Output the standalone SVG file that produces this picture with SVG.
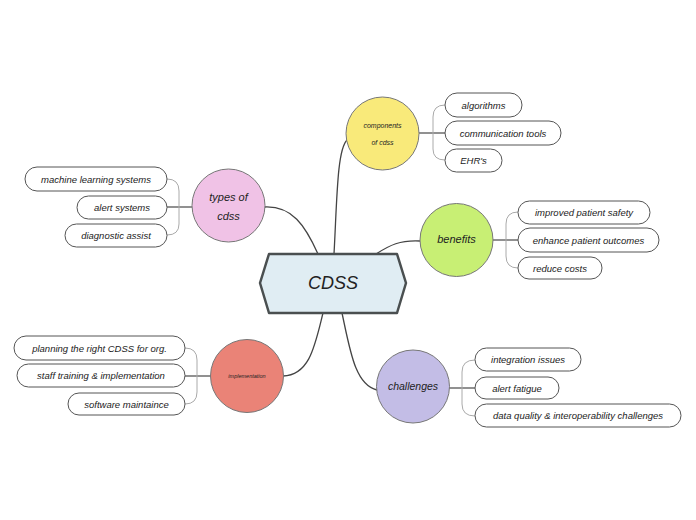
<svg xmlns="http://www.w3.org/2000/svg" width="696" height="520" viewBox="0 0 696 520">
<style>
text{font-family:"Liberation Sans",Arial,sans-serif;font-style:italic;fill:#222;text-anchor:middle;dominant-baseline:central}
.leaf rect{fill:#fff;stroke:#555;stroke-width:1}
.leaf text{font-size:9.5px}
.topic circle{stroke:#777;stroke-width:1}
.main{fill:none;stroke:#444;stroke-width:1.3}
.br{fill:none;stroke:#aaa;stroke-width:1}
.stem{fill:none;stroke:#555;stroke-width:1.3}
</style>
<rect width="696" height="520" fill="#fff"/>
<g id="connectors">
<path class="main" d="M334,254 C337,200 337,150 347,140"/>
<path class="main" d="M318,254 C305,225 292,206 265,207"/>
<path class="main" d="M376,254 C390,245 400,240 420,241"/>
<path class="main" d="M323,313 C315,345 310,375 283,376"/>
<path class="main" d="M342,313 C350,350 355,385 377,390"/>
<path class="stem" d="M419,133 L445,133"/>
<path class="br" d="M445,105 Q433,105 433,117 L433,149 Q433,160 445,160"/>
<path class="stem" d="M192,207 L167,207"/>
<path class="br" d="M167,179 Q179,179 179,191 L179,224 Q179,235 167,235"/>
<path class="stem" d="M493,240 L518,240"/>
<path class="br" d="M518,212 Q506,212 506,224 L506,256 Q506,268 518,268"/>
<path class="stem" d="M211,376 L185,376"/>
<path class="br" d="M185,348 Q197,348 197,360 L197,392 Q197,404 185,404"/>
<path class="stem" d="M449,388 L475,388"/>
<path class="br" d="M475,360 Q462,360 462,372 L462,404 Q462,416 475,416"/>
</g>
<g id="cdss">
<polygon points="269,254 397,254 406,283 397,313 269,313 260,283" fill="#e0edf3" stroke="#4a4f50" stroke-width="2.5" stroke-linejoin="round"/>
<text x="333" y="283" style="font-size:18px">CDSS</text>
</g>
<g id="components" class="topic">
<circle cx="382.5" cy="133.5" r="36.5" fill="#f9ea7a"/>
<text x="382.5" y="125" style="font-size:7px">components</text>
<text x="382.5" y="142" style="font-size:7px">of cdss</text>
</g>
<g id="types" class="topic">
<circle cx="228.5" cy="205.5" r="36.5" fill="#f0c2e6"/>
<text x="228.5" y="197" style="font-size:11px">types of</text>
<text x="228.5" y="216" style="font-size:11px">cdss</text>
</g>
<g id="benefits" class="topic">
<circle cx="456.5" cy="240" r="36.5" fill="#c8ef74"/>
<text x="456.5" y="239" style="font-size:11px">benefits</text>
</g>
<g id="implementation" class="topic">
<circle cx="247" cy="376" r="36.5" fill="#ea8377"/>
<text x="247" y="376" style="font-size:5.5px">implementation</text>
</g>
<g id="challenges" class="topic">
<circle cx="413" cy="386.5" r="36.5" fill="#c3bde6"/>
<text x="413" y="386" style="font-size:10.5px">challenges</text>
</g>
<g id="leaf-algorithms" class="leaf"><rect x="445" y="93" width="77" height="24" rx="12"/><text x="483.5" y="105">algorithms</text></g>
<g id="leaf-communication" class="leaf"><rect x="445" y="121" width="116" height="24" rx="12"/><text x="503" y="133">communication tools</text></g>
<g id="leaf-ehr" class="leaf"><rect x="445" y="149" width="57" height="23" rx="11.5"/><text x="473.5" y="160.5">EHR's</text></g>
<g id="leaf-ml" class="leaf"><rect x="25" y="167" width="142" height="24" rx="12"/><text x="96" y="179">machine learning systems</text></g>
<g id="leaf-alert-systems" class="leaf"><rect x="77" y="196" width="90" height="23" rx="11.5"/><text x="122" y="207.5">alert systems</text></g>
<g id="leaf-diagnostic" class="leaf"><rect x="65" y="224" width="102" height="23" rx="11.5"/><text x="116" y="235.5">diagnostic assist</text></g>
<g id="leaf-safety" class="leaf"><rect x="518" y="201" width="132" height="23" rx="11.5"/><text x="584" y="212.5">improved patient safety</text></g>
<g id="leaf-outcomes" class="leaf"><rect x="518" y="228" width="141" height="24" rx="12"/><text x="588.5" y="240">enhance patient outcomes</text></g>
<g id="leaf-costs" class="leaf"><rect x="518" y="257" width="84" height="22" rx="11"/><text x="560" y="268">reduce costs</text></g>
<g id="leaf-planning" class="leaf"><rect x="14" y="336" width="171" height="24" rx="12"/><text x="99.5" y="348">planning the right CDSS for org.</text></g>
<g id="leaf-training" class="leaf"><rect x="17" y="364" width="168" height="23" rx="11.5"/><text x="101" y="375.5">staff training &amp; implementation</text></g>
<g id="leaf-software" class="leaf"><rect x="68" y="393" width="117" height="22" rx="11"/><text x="126.5" y="404">software maintaince</text></g>
<g id="leaf-integration" class="leaf"><rect x="475" y="348" width="106" height="23" rx="11.5"/><text x="528" y="359.5">integration issues</text></g>
<g id="leaf-fatigue" class="leaf"><rect x="475" y="377" width="84" height="22" rx="11"/><text x="517" y="388">alert fatigue</text></g>
<g id="leaf-data" class="leaf"><rect x="475" y="404" width="206" height="23" rx="11.5"/><text x="578" y="415.5">data quality &amp; interoperability challenges</text></g>
</svg>
